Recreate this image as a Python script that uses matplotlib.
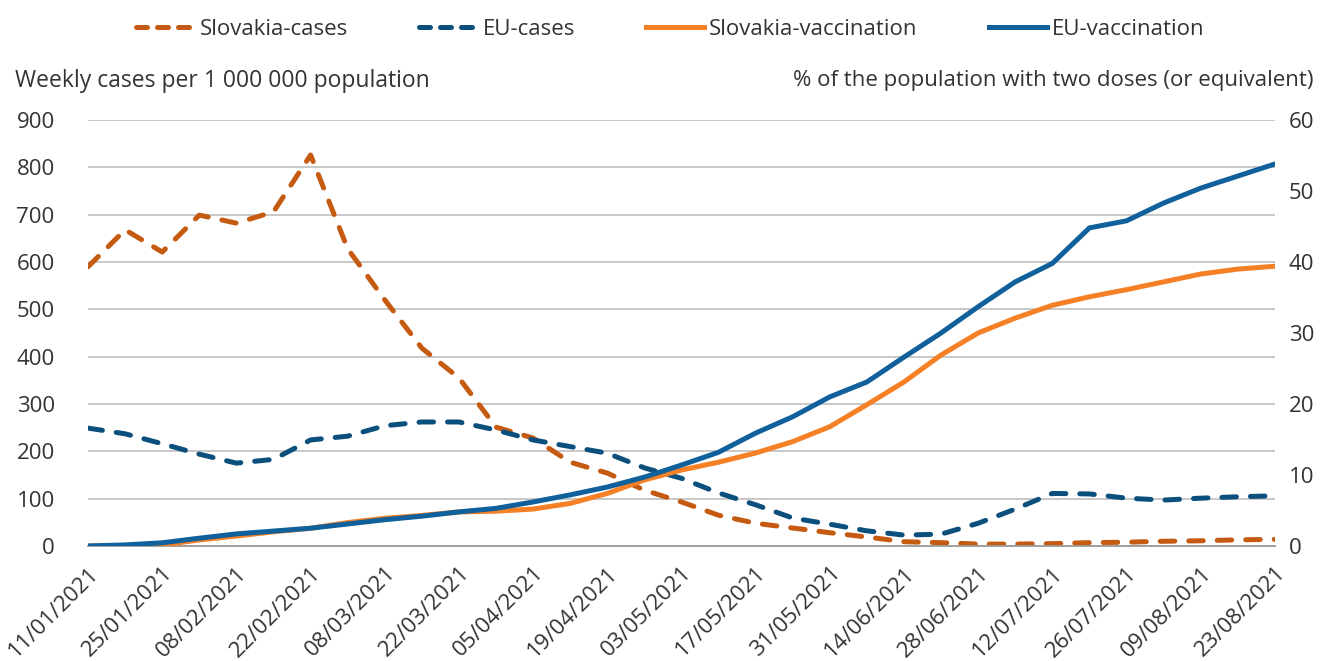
import matplotlib
matplotlib.use('Agg')
import matplotlib.pyplot as plt
import matplotlib.dates as mdates
import pandas as pd
from matplotlib.lines import Line2D

plt.rcParams['font.family'] = ['Open Sans', 'DejaVu Sans']

weeks = pd.date_range('2021-01-11', '2021-08-23', freq='7D')

sk_cases = [590, 668, 621, 699, 682, 706, 826, 628, 520, 418, 355, 251, 228, 177,
            154, 118, 93, 65, 48, 38, 28, 19, 9, 7, 4, 4, 5, 7, 8, 10, 11, 13, 14]
eu_cases = [249, 237, 216, 194, 175, 183, 224, 232, 254, 262, 262, 245, 224, 210,
            196, 165, 143, 112, 87, 59, 46, 32, 23, 25, 48, 78, 111, 110, 101, 97,
            101, 104, 106]
sk_vacc = [0, 0, 0.15, 0.85, 1.4, 2.0, 2.5, 3.3, 3.9, 4.3, 4.8, 4.9, 5.2, 6.0, 7.4,
           9.3, 10.7, 11.8, 13.1, 14.7, 16.8, 19.9, 23.1, 26.9, 30.0, 32.1, 33.9,
           35.1, 36.1, 37.2, 38.3, 39.0, 39.4]
eu_vacc = [0, 0.15, 0.45, 1.1, 1.7, 2.1, 2.5, 3.1, 3.7, 4.2, 4.8, 5.3, 6.2, 7.2,
           8.3, 9.7, 11.4, 13.2, 15.9, 18.2, 21.0, 23.1, 26.6, 30.0, 33.7, 37.2,
           39.8, 44.8, 45.8, 48.3, 50.4, 52.1, 53.8]

C_SK_CASES = '#C55A11'
C_EU_CASES = '#0B4F7C'
C_SK_VACC = '#F58025'
C_EU_VACC = '#0F609B'
TXT = '#333333'

fig = plt.figure(figsize=(13.28, 6.61), dpi=100)
ax = fig.add_axes([0.0663, 0.174, 0.8937, 0.6445])
ax2 = ax.twinx()

dash = (0, (2.9, 2.8))
ax.plot(weeks, sk_cases, color=C_SK_CASES, lw=3.6, ls=dash, dash_capstyle='round')
ax.plot(weeks, eu_cases, color=C_EU_CASES, lw=3.6, ls=dash, dash_capstyle='round')
ax2.plot(weeks, sk_vacc, color=C_SK_VACC, lw=3.6, solid_capstyle='round')
ax2.plot(weeks, eu_vacc, color=C_EU_VACC, lw=3.6, solid_capstyle='round')

ax.set_ylim(0, 900)
ax.set_yticks(range(0, 901, 100))
ax2.set_ylim(0, 60)
ax2.set_yticks(range(0, 61, 10))
ax.set_xlim(weeks[0], weeks[-1])
ax.set_xticks(weeks[::2])
ax.xaxis.set_major_formatter(mdates.DateFormatter('%d/%m/%Y'))

ax.grid(axis='y', color='#c4c4c4', lw=1.3)
ax.set_axisbelow(True)
for a in (ax, ax2):
    for s in a.spines.values():
        s.set_visible(False)
ax.spines['bottom'].set_visible(True)
ax.spines['bottom'].set_color('#9a9a9a')
ax.spines['bottom'].set_linewidth(1.3)

ax.tick_params(axis='y', length=0, pad=24, labelsize=16, labelcolor=TXT)
ax2.tick_params(axis='y', length=0, pad=10, labelsize=16, labelcolor=TXT)
ax.tick_params(axis='x', length=0, pad=12, labelsize=16, labelcolor=TXT)
for lbl in ax.get_xticklabels():
    lbl.set_rotation(45)
    lbl.set_ha('right')
    lbl.set_va('top')
    lbl.set_rotation_mode('anchor')

fig.text(0.011, 0.878, 'Weekly cases per 1 000 000 population', fontsize=16.5,
         color=TXT, ha='left', va='center')
fig.text(0.989, 0.878, '% of the population with two doses (or equivalent)',
         fontsize=16, color=TXT, ha='right', va='center')

handles = [
    Line2D([], [], color=C_SK_CASES, lw=3.6, ls=(0, (2.2, 2.0)), dash_capstyle='round'),
    Line2D([], [], color=C_EU_CASES, lw=3.6, ls=(0, (2.2, 2.0)), dash_capstyle='round'),
    Line2D([], [], color=C_SK_VACC, lw=3.6),
    Line2D([], [], color=C_EU_VACC, lw=3.6),
]
labels = ['Slovakia-cases', 'EU-cases', 'Slovakia-vaccination', 'EU-vaccination']
fig.legend(handles, labels, loc='center', bbox_to_anchor=(0.505, 0.956), ncol=4,
           frameon=False, fontsize=16, handlelength=2.6, handletextpad=0.25,
           columnspacing=3.2, labelcolor=TXT)

fig.savefig('out.png', dpi=100)
